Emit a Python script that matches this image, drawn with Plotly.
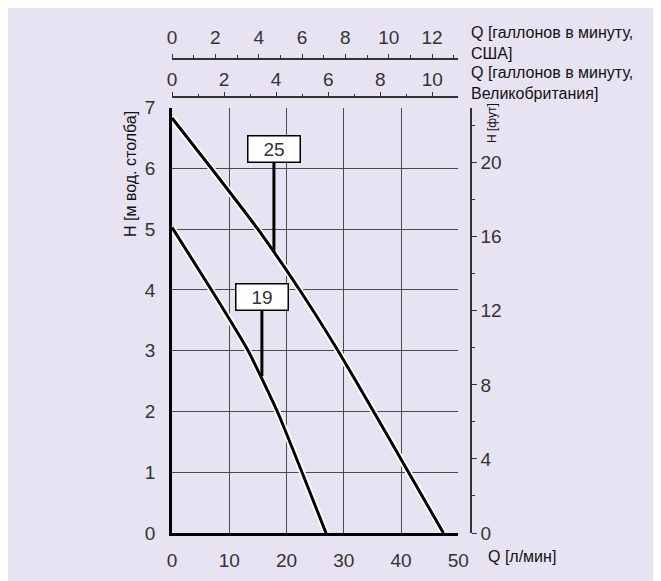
import plotly.graph_objects as go

# ---- data ----
h_25 = [6.83, 6.0, 5.0, 4.0, 3.0, 2.0, 1.0, 0.0]
q_25 = [0.0, 6.9, 15.0, 22.3, 29.0, 35.2, 41.3, 47.4]
h_19 = [5.03, 4.0, 3.0, 2.0, 1.0, 0.0]
q_19 = [0.0, 6.9, 13.3, 18.4, 22.7, 26.9]

label_text = ["25", "19"]
label_q = [17.8, 15.7]
label_h = [6.32, 3.88]
label_tip_h = [4.62, 2.58]

q_ticks = [0, 10, 20, 30, 40, 50]
h_ticks = [0, 1, 2, 3, 4, 5, 6, 7]
ft_ticks = [0, 4, 8, 12, 16, 20]
us_ticks = [0, 2, 4, 6, 8, 10, 12]
uk_ticks = [0, 2, 4, 6, 8, 10]

Q_MAX = 50
H_MAX = 7
L_PER_US_GAL = 3.78541
L_PER_UK_GAL = 4.54609
M_PER_FT = 0.3048

# ---- layout geometry (figure pixels; page adds an 8px body margin) ----
W, H = 653, 573
ML, MR, MT, MB = 164, 60, 12, 48
PW, PH = W - ML - MR, H - MT - MB
X_RIGHT_PX = 450.3
Y_TOP_PX = 99.7
xdom_end = (X_RIGHT_PX - ML) / PW
ydom_end = ((H - MB) - Y_TOP_PX) / PH
OFF = 8  # reference pixel -> figure pixel offset


def py(ref_pix):
    return ((H - MB) - (ref_pix - OFF)) / PH


def px(ref_pix):
    return ((ref_pix - OFF) - ML) / PW


BG = "#E8E3F2"
TXT = "#333333"
FONT = "Liberation Sans, Arial, sans-serif"

fig = go.Figure()

# curves: white halo under black line
for q, h in [(q_25, h_25), (q_19, h_19)]:
    fig.add_trace(go.Scatter(x=q, y=h, mode="lines",
                             line=dict(color="white", width=6.5, shape="spline", smoothing=0.45),
                             hoverinfo="skip", showlegend=False))
    fig.add_trace(go.Scatter(x=q, y=h, mode="lines",
                             line=dict(color="black", width=3, shape="spline", smoothing=0.45),
                             hoverinfo="skip", showlegend=False))

# label leader lines
for q, hl, ht in zip(label_q, label_h, label_tip_h):
    fig.add_trace(go.Scatter(x=[q, q], y=[hl, ht], mode="lines",
                             line=dict(color="black", width=3),
                             hoverinfo="skip", showlegend=False))

# invisible traces to activate secondary axes
fig.add_trace(go.Scatter(x=[0, Q_MAX / L_PER_US_GAL], y=[0, H_MAX], xaxis="x2", yaxis="y",
                         mode="markers", marker=dict(opacity=0), hoverinfo="skip", showlegend=False))
fig.add_trace(go.Scatter(x=[0, Q_MAX / L_PER_UK_GAL], y=[0, H_MAX], xaxis="x3", yaxis="y",
                         mode="markers", marker=dict(opacity=0), hoverinfo="skip", showlegend=False))
fig.add_trace(go.Scatter(x=[0, Q_MAX], y=[0, H_MAX / M_PER_FT], xaxis="x", yaxis="y2",
                         mode="markers", marker=dict(opacity=0), hoverinfo="skip", showlegend=False))

for t, q, h in zip(label_text, label_q, label_h):
    fig.add_annotation(x=q, y=h, xref="x", yref="y", text=t, showarrow=False,
                       xanchor="center", yanchor="middle",
                       font=dict(family=FONT, size=19, color=TXT),
                       bgcolor="white", bordercolor="black", borderwidth=1.5,
                       borderpad=2, width=47, height=21)

tickfont = dict(family=FONT, size=19, color=TXT)

fig.update_layout(
    width=W, height=H,
    margin=dict(l=ML, r=MR, t=MT, b=MB, autoexpand=False),
    paper_bgcolor=BG, plot_bgcolor=BG,
    showlegend=False,
    xaxis=dict(domain=[0, xdom_end], range=[0, Q_MAX], tickvals=q_ticks, automargin=False,
               showgrid=True, gridcolor="#4a4a4a", gridwidth=1,
               showline=True, linecolor="black", linewidth=2.5,
               zeroline=False, ticks="outside", ticklen=8, tickcolor="rgba(0,0,0,0)",
               tickfont=tickfont, anchor="y", fixedrange=True),
    yaxis=dict(domain=[0, ydom_end], range=[0, H_MAX], tickvals=h_ticks, automargin=False,
               showgrid=True, gridcolor="#4a4a4a", gridwidth=1,
               showline=True, linecolor="black", linewidth=2.5,
               zeroline=False, ticks="outside", ticklen=10, tickcolor="rgba(0,0,0,0)",
               tickfont=tickfont, anchor="x", fixedrange=True),
    xaxis2=dict(overlaying="x", anchor="free", position=py(59), side="top", automargin=False,
                range=[0, Q_MAX / L_PER_US_GAL], tickvals=us_ticks,
                showgrid=False, zeroline=False, showline=True, linecolor="#333", linewidth=1.5,
                ticks="outside", ticklen=4, tickcolor="#333", tickwidth=1,
                minor=dict(dtick=1, ticklen=3, tickcolor="#333", ticks="outside"),
                ticklabelstandoff=3,
                tickfont=tickfont, fixedrange=True),
    xaxis3=dict(overlaying="x", anchor="free", position=py(97), side="top", automargin=False,
                range=[0, Q_MAX / L_PER_UK_GAL], tickvals=uk_ticks,
                showgrid=False, zeroline=False, showline=True, linecolor="#333", linewidth=1.5,
                ticks="outside", ticklen=4, tickcolor="#333", tickwidth=1,
                minor=dict(dtick=1, ticklen=2, tickcolor="#333", ticks="outside"),
                ticklabelstandoff=-1,
                tickfont=tickfont, fixedrange=True),
    yaxis2=dict(overlaying="y", anchor="free", position=px(471), side="right", automargin=False,
                range=[0, H_MAX / M_PER_FT], tickvals=ft_ticks,
                showgrid=False, zeroline=False, showline=True, linecolor="#333", linewidth=1.5,
                ticks="outside", ticklen=5, tickcolor="#333", tickwidth=1,
                minor=dict(dtick=2, ticklen=3, tickcolor="#333", ticks="outside"),
                tickfont=tickfont, fixedrange=True),
)

# axis titles
fig.add_annotation(x=px(130), y=py(174), xref="paper", yref="paper", text="H [м вод. столба]",
                   textangle=-90, showarrow=False, xanchor="center", yanchor="middle",
                   font=dict(family=FONT, size=16, color="#111"))
fig.add_annotation(x=px(492), y=py(123), xref="paper", yref="paper", text="H [фут]",
                   textangle=-90, showarrow=False, xanchor="center", yanchor="middle",
                   font=dict(family=FONT, size=12, color="#111"))
fig.add_annotation(x=px(486), y=py(556), xref="paper", yref="paper", text="Q [л/мин]",
                   xanchor="left", yanchor="middle", showarrow=False,
                   font=dict(family=FONT, size=16, color="#111"))
fig.add_annotation(x=px(469), y=py(42.5), xref="paper", yref="paper",
                   text="Q [галлонов в минуту,<br>США]", align="left",
                   xanchor="left", yanchor="middle", showarrow=False,
                   font=dict(family=FONT, size=16, color="#111"))
fig.add_annotation(x=px(469), y=py(82.5), xref="paper", yref="paper",
                   text="Q [галлонов в минуту,<br>Великобритания]", align="left",
                   xanchor="left", yanchor="middle", showarrow=False,
                   font=dict(family=FONT, size=16, color="#111"))

fig.write_html("out.html")
